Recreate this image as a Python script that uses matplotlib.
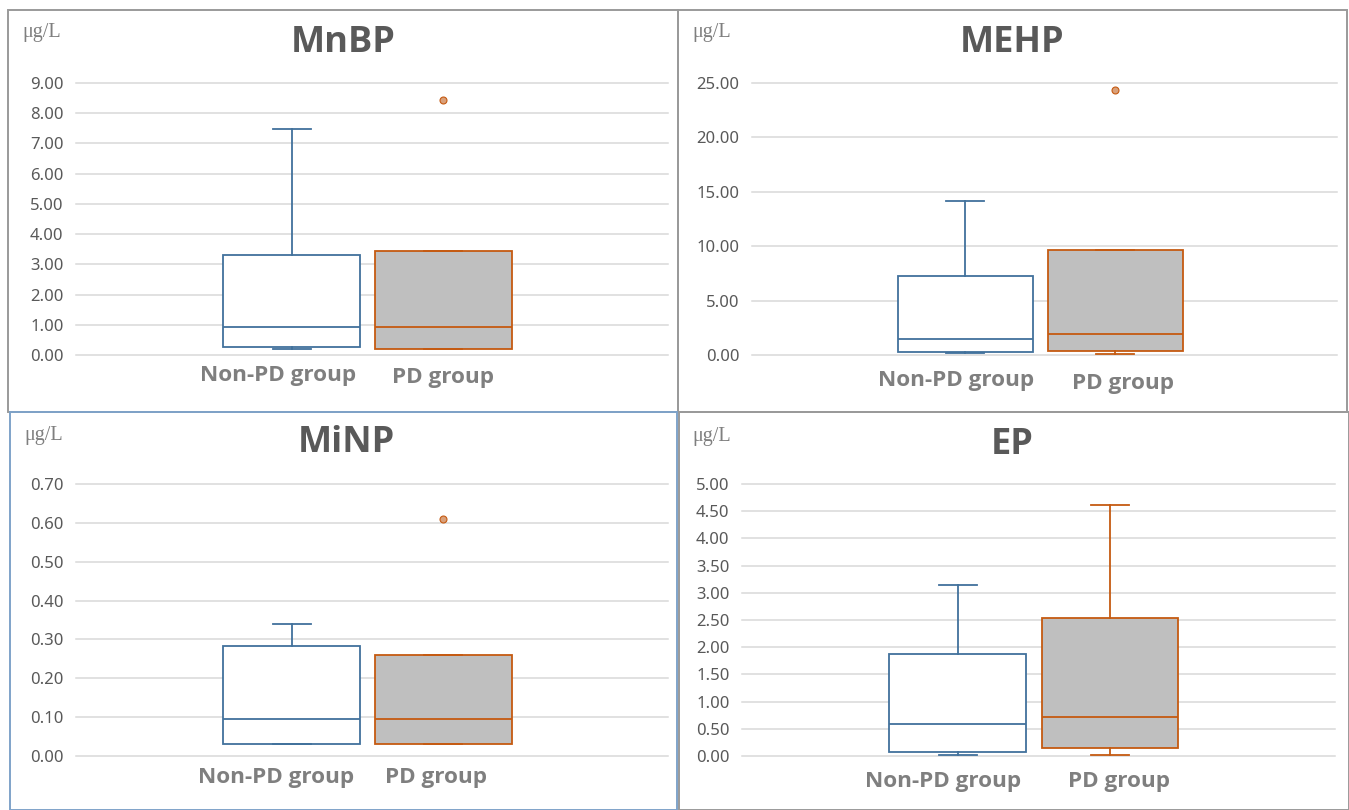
import matplotlib
matplotlib.use("Agg")
import matplotlib.pyplot as plt
from matplotlib.patches import Rectangle
from matplotlib.ticker import FormatStrFormatter, MultipleLocator
import matplotlib.transforms as mtransforms
from matplotlib import font_manager

# ---------------- data ----------------
groups = ["Non-PD group", "PD group"]
titles = ["MnBP", "MEHP", "MiNP", "EP"]
unit = "μg/L"

# five-number summaries: [whisker low, Q1, median, Q3, whisker high]
mnbp_nonpd = [0.19, 0.27, 0.93, 3.30, 7.49]
mnbp_pd = [0.19, 0.19, 0.93, 3.44, 3.44]
mnbp_out = [[], [8.45]]

mehp_nonpd = [0.15, 0.28, 1.44, 7.23, 14.18]
mehp_pd = [0.12, 0.40, 1.96, 9.68, 9.68]
mehp_out = [[], [24.36]]

minp_nonpd = [0.032, 0.032, 0.094, 0.282, 0.339]
minp_pd = [0.032, 0.032, 0.094, 0.260, 0.260]
minp_out = [[], [0.61]]

ep_nonpd = [0.025, 0.074, 0.59, 1.88, 3.14]
ep_pd = [0.025, 0.153, 0.72, 2.53, 4.61]
ep_out = [[], []]

y_max = [9.0, 25.0, 0.70, 5.0]
y_step = [1.0, 5.0, 0.10, 0.50]

panel_data = [(mnbp_nonpd, mnbp_pd, mnbp_out),
              (mehp_nonpd, mehp_pd, mehp_out),
              (minp_nonpd, minp_pd, minp_out),
              (ep_nonpd, ep_pd, ep_out)]

# pick a sans family that has a real bold face
bold_family = "DejaVu Sans"
for fam in ["Open Sans", "Lato", "Roboto", "Noto Sans", "Liberation Sans"]:
    try:
        p = font_manager.findfont(font_manager.FontProperties(family=fam, weight="bold"),
                                  fallback_to_default=False)
        if "bold" in p.lower():
            bold_family = fam
            break
    except Exception:
        pass

# ---------------- layout (pixels) ----------------
W, H = 1349, 810
fig = plt.figure(figsize=(W / 100, H / 100), dpi=100)
fig.patch.set_facecolor("white")

def fx(px):
    return px / W

def fy(py):
    return 1 - py / H

frames = [(8, 10, 678, 412, "#9a9a9a"),
          (678, 10, 1347, 412, "#9a9a9a"),
          (10, 412, 677, 810, "#7fa3c9"),
          (679, 412, 1349, 810, "#9a9a9a")]
for x0, y0, x1, y1, c in frames:
    fig.add_artist(Rectangle((fx(x0), fy(y1)), fx(x1 - x0), (y1 - y0) / H,
                             transform=fig.transFigure, fill=False,
                             edgecolor=c, linewidth=1.4))

axes_px = [(76, 83, 668, 355), (752, 83, 1337, 355),
           (76, 484, 668, 756), (742, 484, 1335, 756)]
title_px = [(343, 43), (1012, 43), (346, 443), (1012, 445)]
unit_px = [(22, 32), (692, 32), (24, 435), (692, 436)]
label_dy = [[20, 23], [26, 29], [22, 22], [26, 26]]
label_dx = [[-0.09, 0.0], [-0.06, 0.05], [-0.1, -0.05], [-0.1, 0.06]]

blue = "#41719c"
orange = "#c55a11"
grey_fill = "#bfbfbf"
text_grey = "#595959"
label_grey = "#7f7f7f"

positions = [0, 1]
box_w = 0.9

for i, (l, t, r, b) in enumerate(axes_px):
    ax = fig.add_axes([fx(l), fy(b), fx(r - l), (b - t) / H])
    nonpd, pd_, outs = panel_data[i]
    stats = []
    for s, o, lab in zip([nonpd, pd_], outs, groups):
        stats.append(dict(whislo=s[0], q1=s[1], med=s[2], q3=s[3],
                          whishi=s[4], fliers=o, label=lab))
    bp = ax.bxp(stats, positions=positions, widths=box_w, patch_artist=True,
                showfliers=True, capwidths=0.25, manage_ticks=False)
    cols = [blue, orange]
    fills = ["white", grey_fill]
    for k in range(2):
        bp["boxes"][k].set_facecolor(fills[k])
        bp["boxes"][k].set_edgecolor(cols[k])
        bp["boxes"][k].set_linewidth(1.3)
        bp["medians"][k].set_color(cols[k])
        bp["medians"][k].set_linewidth(1.3)
        for w in bp["whiskers"][2 * k:2 * k + 2]:
            w.set_color(cols[k]); w.set_linewidth(1.3)
        for c in bp["caps"][2 * k:2 * k + 2]:
            c.set_color(cols[k]); c.set_linewidth(1.3)
        f = bp["fliers"][k]
        f.set_marker("o")
        f.set_markersize(5)
        f.set_markerfacecolor("#d9a07a")
        f.set_markeredgecolor(orange)
        f.set_markeredgewidth(0.8)

    ax.set_xlim(-1.42, 2.48)
    ax.set_ylim(0, y_max[i])
    ax.yaxis.set_major_locator(MultipleLocator(y_step[i]))
    ax.yaxis.set_major_formatter(FormatStrFormatter("%.2f"))
    ax.set_xticks([])
    ax.grid(axis="y", color="#d9d9d9", linewidth=1.1)
    for gl in ax.get_ygridlines():
        gl.set_clip_on(False)
    ax.set_axisbelow(True)
    for sp in ax.spines.values():
        sp.set_visible(False)
    ax.tick_params(axis="y", length=0, pad=9, labelsize=12,
                   labelcolor=text_grey)
    for lab in ax.get_yticklabels():
        lab.set_family("Noto Sans")
    ax.set_facecolor("none")

    trans = mtransforms.blended_transform_factory(ax.transData, fig.transFigure)
    for k in range(2):
        ax.text(positions[k] + label_dx[i][k], fy(b + label_dy[i][k]), groups[k],
                transform=trans, ha="center", va="center", fontsize=16.2,
                fontweight="bold", color=label_grey, family=bold_family)

    tx, ty = title_px[i]
    fig.text(fx(tx), fy(ty), titles[i], ha="center", va="center", fontsize=26,
             fontweight="bold", color=text_grey, family=bold_family)
    ux, uy = unit_px[i]
    fig.text(fx(ux), fy(uy), unit, ha="left", va="center", fontsize=14.5,
             color="#7f7f7f", family="Liberation Serif")

fig.savefig("out.png", dpi=100, facecolor="white")
